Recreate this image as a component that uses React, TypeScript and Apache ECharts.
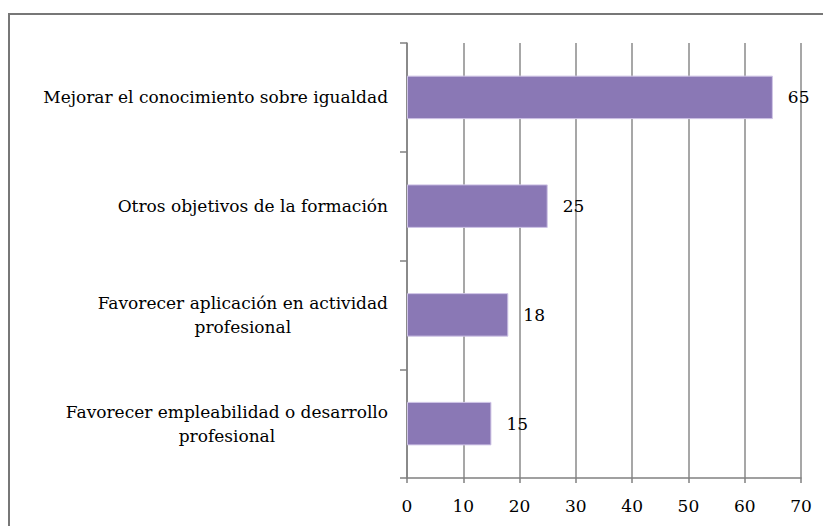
import React, { useEffect, useRef } from "react";
import * as echarts from "echarts";

const categories = [
  "Mejorar el conocimiento sobre igualdad",
  "Otros objetivos de la formación",
  "Favorecer aplicación en actividad\nprofesional",
  "Favorecer empleabilidad o desarrollo\nprofesional",
];
const values = [65, 25, 18, 15];
const xTicks = { min: 0, max: 70, interval: 10 };

const FONT = "DejaVu Serif";
const FS = 17;

export default function App() {
  const ref = useRef<HTMLDivElement>(null);
  useEffect(() => {
    if (!ref.current) return;
    const chart = echarts.init(ref.current, null, { renderer: "svg" });
    chart.setOption({
      animation: false,
      backgroundColor: "#ffffff",
      graphic: [
        {
          type: "rect",
          shape: { x: 1, y: 6, width: 900, height: 700 },
          style: { fill: "none", stroke: "#777777", lineWidth: 2 },
          silent: true,
          z: -1,
        },
      ],
      grid: { left: 399, right: 30, top: 35, bottom: 48, containLabel: false },
      xAxis: {
        type: "value",
        min: xTicks.min,
        max: xTicks.max,
        interval: xTicks.interval,
        axisLine: { show: true, lineStyle: { color: "#808080", width: 1.5 } },
        axisTick: { show: true, length: 5, lineStyle: { color: "#808080", width: 1.5 } },
        splitLine: { show: true, lineStyle: { color: "#8a8a8a", width: 1.5 } },
        axisLabel: { color: "#000", fontFamily: FONT, fontSize: FS, margin: 19 },
      },
      yAxis: {
        type: "category",
        inverse: true,
        data: categories,
        axisLine: { show: true, lineStyle: { color: "#808080", width: 1.5 } },
        axisTick: { show: true, length: 7, lineStyle: { color: "#808080", width: 1.5 } },
        axisLabel: {
          color: "#000",
          fontFamily: FONT,
          fontSize: FS,
          margin: 19,
          formatter: (v: string) =>
            v
              .split("\n")
              .map((l) => "{c|" + l + "}")
              .join("\n"),
          rich: {
            c: { align: "center", fontFamily: FONT, fontSize: FS, color: "#000", lineHeight: 24 },
          },
        },
      },
      series: [
        {
          type: "bar",
          data: values,
          barCategoryGap: "60%",
          itemStyle: { color: "#8A78B5", borderColor: "#CFC4E6", borderWidth: 1 },
          label: {
            show: true,
            position: "right",
            distance: 15,
            color: "#000",
            fontFamily: FONT,
            fontSize: FS,
          },
        },
      ],
    });
    return () => chart.dispose();
  }, []);
  return <div ref={ref} style={{ width: 823, height: 518 }} />;
}
